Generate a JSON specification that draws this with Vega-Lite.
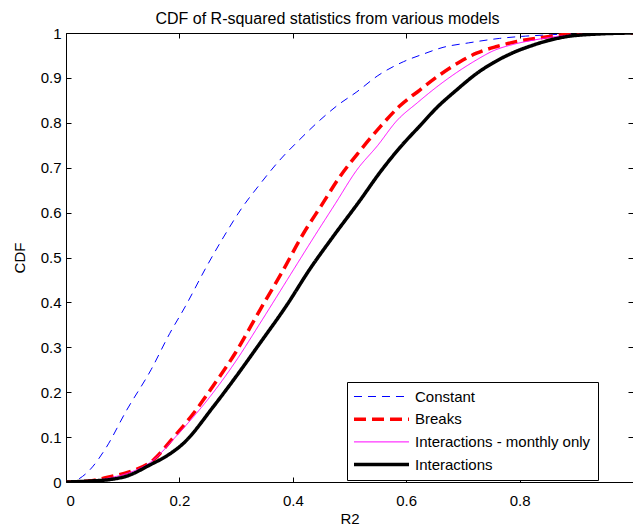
{
  "$schema": "https://vega.github.io/schema/vega-lite/v6.json",
  "width": 567,
  "height": 449,
  "autosize": {"type": "none"},
  "padding": {"left": 66, "top": 33, "right": 0, "bottom": 49},
  "background": "white",
  "config": {
    "font": "Liberation Sans",
    "view": {"stroke": "black", "strokeWidth": 1},
    "axis": {"grid": false, "domain": false, "tickColor": "black", "tickSize": -5, "tickWidth": 1, "labelColor": "black", "titleColor": "black", "labelFontSize": 15, "titleFontSize": 15, "titleFontWeight": "normal", "labelFont": "Liberation Sans", "titleFont": "Liberation Sans"}
  },
  "title": {"text": "CDF of R-squared statistics from various models", "fontSize": 16, "fontWeight": "normal", "font": "Liberation Sans", "color": "black", "offset": -1, "dx": -22},
  "data": {"values": [
    {"model": "Constant", "r2": 0.0, "cdf": 0.0},
    {"model": "Constant", "r2": 0.01, "cdf": 0.0},
    {"model": "Constant", "r2": 0.02, "cdf": 0.005},
    {"model": "Constant", "r2": 0.042, "cdf": 0.027},
    {"model": "Constant", "r2": 0.07, "cdf": 0.075},
    {"model": "Constant", "r2": 0.107, "cdf": 0.16},
    {"model": "Constant", "r2": 0.15, "cdf": 0.25},
    {"model": "Constant", "r2": 0.183, "cdf": 0.331},
    {"model": "Constant", "r2": 0.21, "cdf": 0.39},
    {"model": "Constant", "r2": 0.248, "cdf": 0.48},
    {"model": "Constant", "r2": 0.28, "cdf": 0.55},
    {"model": "Constant", "r2": 0.31, "cdf": 0.61},
    {"model": "Constant", "r2": 0.34, "cdf": 0.66},
    {"model": "Constant", "r2": 0.377, "cdf": 0.717},
    {"model": "Constant", "r2": 0.41, "cdf": 0.76},
    {"model": "Constant", "r2": 0.448, "cdf": 0.806},
    {"model": "Constant", "r2": 0.48, "cdf": 0.84},
    {"model": "Constant", "r2": 0.513, "cdf": 0.869},
    {"model": "Constant", "r2": 0.55, "cdf": 0.905},
    {"model": "Constant", "r2": 0.595, "cdf": 0.936},
    {"model": "Constant", "r2": 0.63, "cdf": 0.953},
    {"model": "Constant", "r2": 0.665, "cdf": 0.968},
    {"model": "Constant", "r2": 0.71, "cdf": 0.978},
    {"model": "Constant", "r2": 0.765, "cdf": 0.988},
    {"model": "Constant", "r2": 0.81, "cdf": 0.993},
    {"model": "Constant", "r2": 0.854, "cdf": 0.996},
    {"model": "Constant", "r2": 0.9, "cdf": 0.999},
    {"model": "Constant", "r2": 1.0, "cdf": 1.0},
    {"model": "Breaks", "r2": 0.0, "cdf": 0.0},
    {"model": "Breaks", "r2": 0.04, "cdf": 0.002},
    {"model": "Breaks", "r2": 0.078, "cdf": 0.012},
    {"model": "Breaks", "r2": 0.11, "cdf": 0.022},
    {"model": "Breaks", "r2": 0.154, "cdf": 0.049},
    {"model": "Breaks", "r2": 0.19, "cdf": 0.1},
    {"model": "Breaks", "r2": 0.225, "cdf": 0.153},
    {"model": "Breaks", "r2": 0.26, "cdf": 0.215},
    {"model": "Breaks", "r2": 0.3, "cdf": 0.29},
    {"model": "Breaks", "r2": 0.342, "cdf": 0.383},
    {"model": "Breaks", "r2": 0.38, "cdf": 0.465},
    {"model": "Breaks", "r2": 0.419, "cdf": 0.554},
    {"model": "Breaks", "r2": 0.45, "cdf": 0.615},
    {"model": "Breaks", "r2": 0.483, "cdf": 0.68},
    {"model": "Breaks", "r2": 0.52, "cdf": 0.74},
    {"model": "Breaks", "r2": 0.554, "cdf": 0.791},
    {"model": "Breaks", "r2": 0.589, "cdf": 0.838},
    {"model": "Breaks", "r2": 0.624, "cdf": 0.873},
    {"model": "Breaks", "r2": 0.655, "cdf": 0.903},
    {"model": "Breaks", "r2": 0.695, "cdf": 0.936},
    {"model": "Breaks", "r2": 0.724, "cdf": 0.955},
    {"model": "Breaks", "r2": 0.76, "cdf": 0.97},
    {"model": "Breaks", "r2": 0.795, "cdf": 0.981},
    {"model": "Breaks", "r2": 0.84, "cdf": 0.99},
    {"model": "Breaks", "r2": 0.883, "cdf": 0.997},
    {"model": "Breaks", "r2": 0.95, "cdf": 1.0},
    {"model": "Breaks", "r2": 1.0, "cdf": 1.0},
    {"model": "Interactions - monthly only", "r2": 0.0, "cdf": 0.0},
    {"model": "Interactions - monthly only", "r2": 0.04, "cdf": 0.002},
    {"model": "Interactions - monthly only", "r2": 0.08, "cdf": 0.01},
    {"model": "Interactions - monthly only", "r2": 0.11, "cdf": 0.02},
    {"model": "Interactions - monthly only", "r2": 0.15, "cdf": 0.045},
    {"model": "Interactions - monthly only", "r2": 0.2, "cdf": 0.11},
    {"model": "Interactions - monthly only", "r2": 0.254, "cdf": 0.19},
    {"model": "Interactions - monthly only", "r2": 0.3, "cdf": 0.27},
    {"model": "Interactions - monthly only", "r2": 0.342, "cdf": 0.353},
    {"model": "Interactions - monthly only", "r2": 0.39, "cdf": 0.45},
    {"model": "Interactions - monthly only", "r2": 0.436, "cdf": 0.543},
    {"model": "Interactions - monthly only", "r2": 0.475, "cdf": 0.62},
    {"model": "Interactions - monthly only", "r2": 0.513, "cdf": 0.695},
    {"model": "Interactions - monthly only", "r2": 0.55, "cdf": 0.75},
    {"model": "Interactions - monthly only", "r2": 0.583, "cdf": 0.804},
    {"model": "Interactions - monthly only", "r2": 0.62, "cdf": 0.845},
    {"model": "Interactions - monthly only", "r2": 0.654, "cdf": 0.88},
    {"model": "Interactions - monthly only", "r2": 0.689, "cdf": 0.912},
    {"model": "Interactions - monthly only", "r2": 0.724, "cdf": 0.94},
    {"model": "Interactions - monthly only", "r2": 0.753, "cdf": 0.96},
    {"model": "Interactions - monthly only", "r2": 0.79, "cdf": 0.975},
    {"model": "Interactions - monthly only", "r2": 0.824, "cdf": 0.984},
    {"model": "Interactions - monthly only", "r2": 0.87, "cdf": 0.993},
    {"model": "Interactions - monthly only", "r2": 0.92, "cdf": 0.998},
    {"model": "Interactions - monthly only", "r2": 1.0, "cdf": 1.0},
    {"model": "Interactions", "r2": 0.0, "cdf": 0.0},
    {"model": "Interactions", "r2": 0.04, "cdf": 0.002},
    {"model": "Interactions", "r2": 0.08, "cdf": 0.006},
    {"model": "Interactions", "r2": 0.107, "cdf": 0.013},
    {"model": "Interactions", "r2": 0.148, "cdf": 0.038},
    {"model": "Interactions", "r2": 0.18, "cdf": 0.06},
    {"model": "Interactions", "r2": 0.207, "cdf": 0.086},
    {"model": "Interactions", "r2": 0.26, "cdf": 0.168},
    {"model": "Interactions", "r2": 0.3, "cdf": 0.235},
    {"model": "Interactions", "r2": 0.342, "cdf": 0.309},
    {"model": "Interactions", "r2": 0.39, "cdf": 0.395},
    {"model": "Interactions", "r2": 0.43, "cdf": 0.474},
    {"model": "Interactions", "r2": 0.469, "cdf": 0.543},
    {"model": "Interactions", "r2": 0.519, "cdf": 0.628},
    {"model": "Interactions", "r2": 0.554, "cdf": 0.69},
    {"model": "Interactions", "r2": 0.589, "cdf": 0.745},
    {"model": "Interactions", "r2": 0.624, "cdf": 0.793},
    {"model": "Interactions", "r2": 0.655, "cdf": 0.835},
    {"model": "Interactions", "r2": 0.686, "cdf": 0.87},
    {"model": "Interactions", "r2": 0.73, "cdf": 0.915},
    {"model": "Interactions", "r2": 0.754, "cdf": 0.934},
    {"model": "Interactions", "r2": 0.79, "cdf": 0.957},
    {"model": "Interactions", "r2": 0.824, "cdf": 0.973},
    {"model": "Interactions", "r2": 0.85, "cdf": 0.983},
    {"model": "Interactions", "r2": 0.883, "cdf": 0.992},
    {"model": "Interactions", "r2": 0.942, "cdf": 0.998},
    {"model": "Interactions", "r2": 1.0, "cdf": 1.0}
  ]},
  "layer": [
    {
      "mark": {"type": "line", "clip": true, "interpolate": "monotone"},
      "encoding": {
        "x": {"field": "r2", "type": "quantitative", "scale": {"domain": [0, 1], "nice": false}, "axis": {"orient": "bottom", "title": "R2", "values": [0, 0.2, 0.4, 0.6, 0.8], "format": "~g", "labelPadding": 16, "titlePadding": 3}},
        "y": {"field": "cdf", "type": "quantitative", "scale": {"domain": [0, 1], "nice": false}, "axis": {"orient": "left", "title": "CDF", "values": [0, 0.1, 0.2, 0.3, 0.4, 0.5, 0.6, 0.7, 0.8, 0.9, 1], "format": "~g", "labelPadding": 10, "titlePadding": 13}},
        "color": {"field": "model", "type": "nominal", "scale": {"domain": ["Constant", "Breaks", "Interactions - monthly only", "Interactions"], "range": ["#0000ff", "#ff0000", "#ff00ff", "#000000"]},
          "legend": {"title": null, "orient": "none", "legendX": 281, "legendY": 349, "symbolType": "M-1.364,0H8.636", "symbolSize": 121, "labelFontSize": 15, "labelColor": "black", "labelLimit": 400, "strokeColor": "black", "fillColor": "white", "padding": 7, "rowPadding": 6.7, "labelOffset": 46}},
        "strokeDash": {"field": "model", "type": "nominal", "scale": {"domain": ["Constant", "Breaks", "Interactions - monthly only", "Interactions"], "range": [[8, 6], [12, 6], [1, 0], [1, 0]]}, "legend": {"title": null}},
        "strokeWidth": {"field": "model", "type": "nominal", "scale": {"type": "ordinal", "domain": ["Constant", "Breaks", "Interactions - monthly only", "Interactions"], "range": [1, 3.5, 1, 3.5]}, "legend": {"title": null}}
      }
    },
    {
      "mark": {"type": "line", "strokeOpacity": 0},
      "encoding": {
        "x": {"field": "r2", "type": "quantitative", "axis": {"orient": "top", "title": null, "labels": false, "values": [0, 0.2, 0.4, 0.6, 0.8, 1]}},
        "y": {"field": "cdf", "type": "quantitative", "axis": {"orient": "right", "title": null, "labels": false, "values": [0, 0.1, 0.2, 0.3, 0.4, 0.5, 0.6, 0.7, 0.8, 0.9, 1]}},
        "detail": {"field": "model"}
      }
    }
  ],
  "resolve": {"axis": {"x": "independent", "y": "independent"}}
}
